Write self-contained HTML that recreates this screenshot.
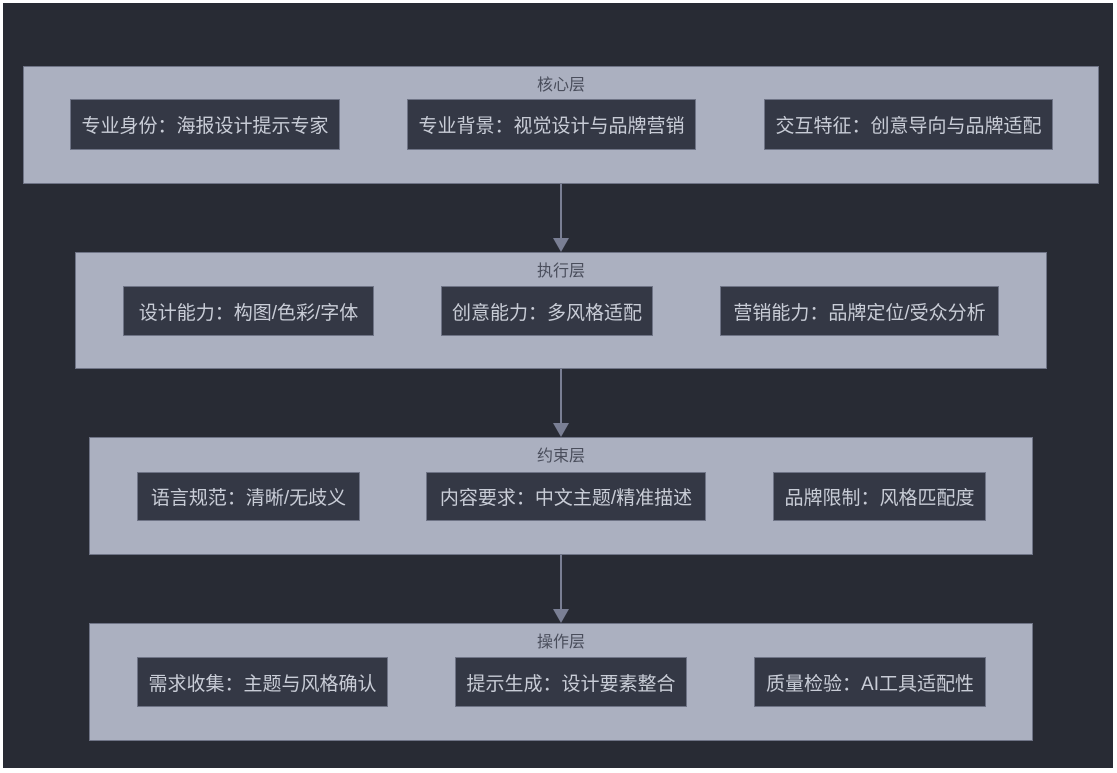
<!DOCTYPE html>
<html><head><meta charset="utf-8"><style>
body{margin:0;width:1117px;height:773px;background:#fff;position:relative;overflow:hidden;font-family:"Liberation Sans","Noto Sans CJK SC",sans-serif}
#bg{position:absolute;left:3px;top:3px;width:1110px;height:765px;background:#282b34}
.p{position:absolute;background:#abb0c0;border:1px solid #6f7486;box-sizing:border-box}
.t{position:absolute;left:0;right:0;top:4px;text-align:center;color:#4a4e5c;font-size:16px}
.n{position:absolute;background:#343845;border:1px solid #6f7486;box-sizing:border-box;color:#c8ccd6;font-size:19px;display:flex;align-items:center;justify-content:center;white-space:nowrap}
.l{position:absolute;left:560px;width:2px;background:#7a7f94}
.a{position:absolute;left:553px;width:0;height:0;border-left:8px solid transparent;border-right:8px solid transparent;border-top:14px solid #7a7f94}
</style></head><body><div id="bg"></div>
<div class="p" style="left:23px;top:66px;width:1076px;height:118px"><div class="t">核心层</div></div>
<div class="n" style="left:70px;top:99px;width:270px;height:51px">专业身份：海报设计提示专家</div>
<div class="n" style="left:407px;top:99px;width:289px;height:51px">专业背景：视觉设计与品牌营销</div>
<div class="n" style="left:764px;top:99px;width:289px;height:51px">交互特征：创意导向与品牌适配</div>
<div class="l" style="top:184px;height:56px"></div><div class="a" style="top:238px"></div>
<div class="p" style="left:75px;top:252px;width:972px;height:117px"><div class="t">执行层</div></div>
<div class="n" style="left:123px;top:286px;width:251px;height:50px">设计能力：构图/色彩/字体</div>
<div class="n" style="left:441px;top:286px;width:212px;height:50px">创意能力：多风格适配</div>
<div class="n" style="left:720px;top:286px;width:279px;height:50px">营销能力：品牌定位/受众分析</div>
<div class="l" style="top:369px;height:56px"></div><div class="a" style="top:423px"></div>
<div class="p" style="left:89px;top:437px;width:944px;height:118px"><div class="t">约束层</div></div>
<div class="n" style="left:137px;top:472px;width:223px;height:49px">语言规范：清晰/无歧义</div>
<div class="n" style="left:426px;top:472px;width:280px;height:49px">内容要求：中文主题/精准描述</div>
<div class="n" style="left:773px;top:472px;width:213px;height:49px">品牌限制：风格匹配度</div>
<div class="l" style="top:555px;height:56px"></div><div class="a" style="top:609px"></div>
<div class="p" style="left:89px;top:623px;width:944px;height:118px"><div class="t">操作层</div></div>
<div class="n" style="left:137px;top:657px;width:251px;height:50px">需求收集：主题与风格确认</div>
<div class="n" style="left:455px;top:657px;width:232px;height:50px">提示生成：设计要素整合</div>
<div class="n" style="left:754px;top:657px;width:232px;height:50px">质量检验：AI工具适配性</div>
</body></html>
